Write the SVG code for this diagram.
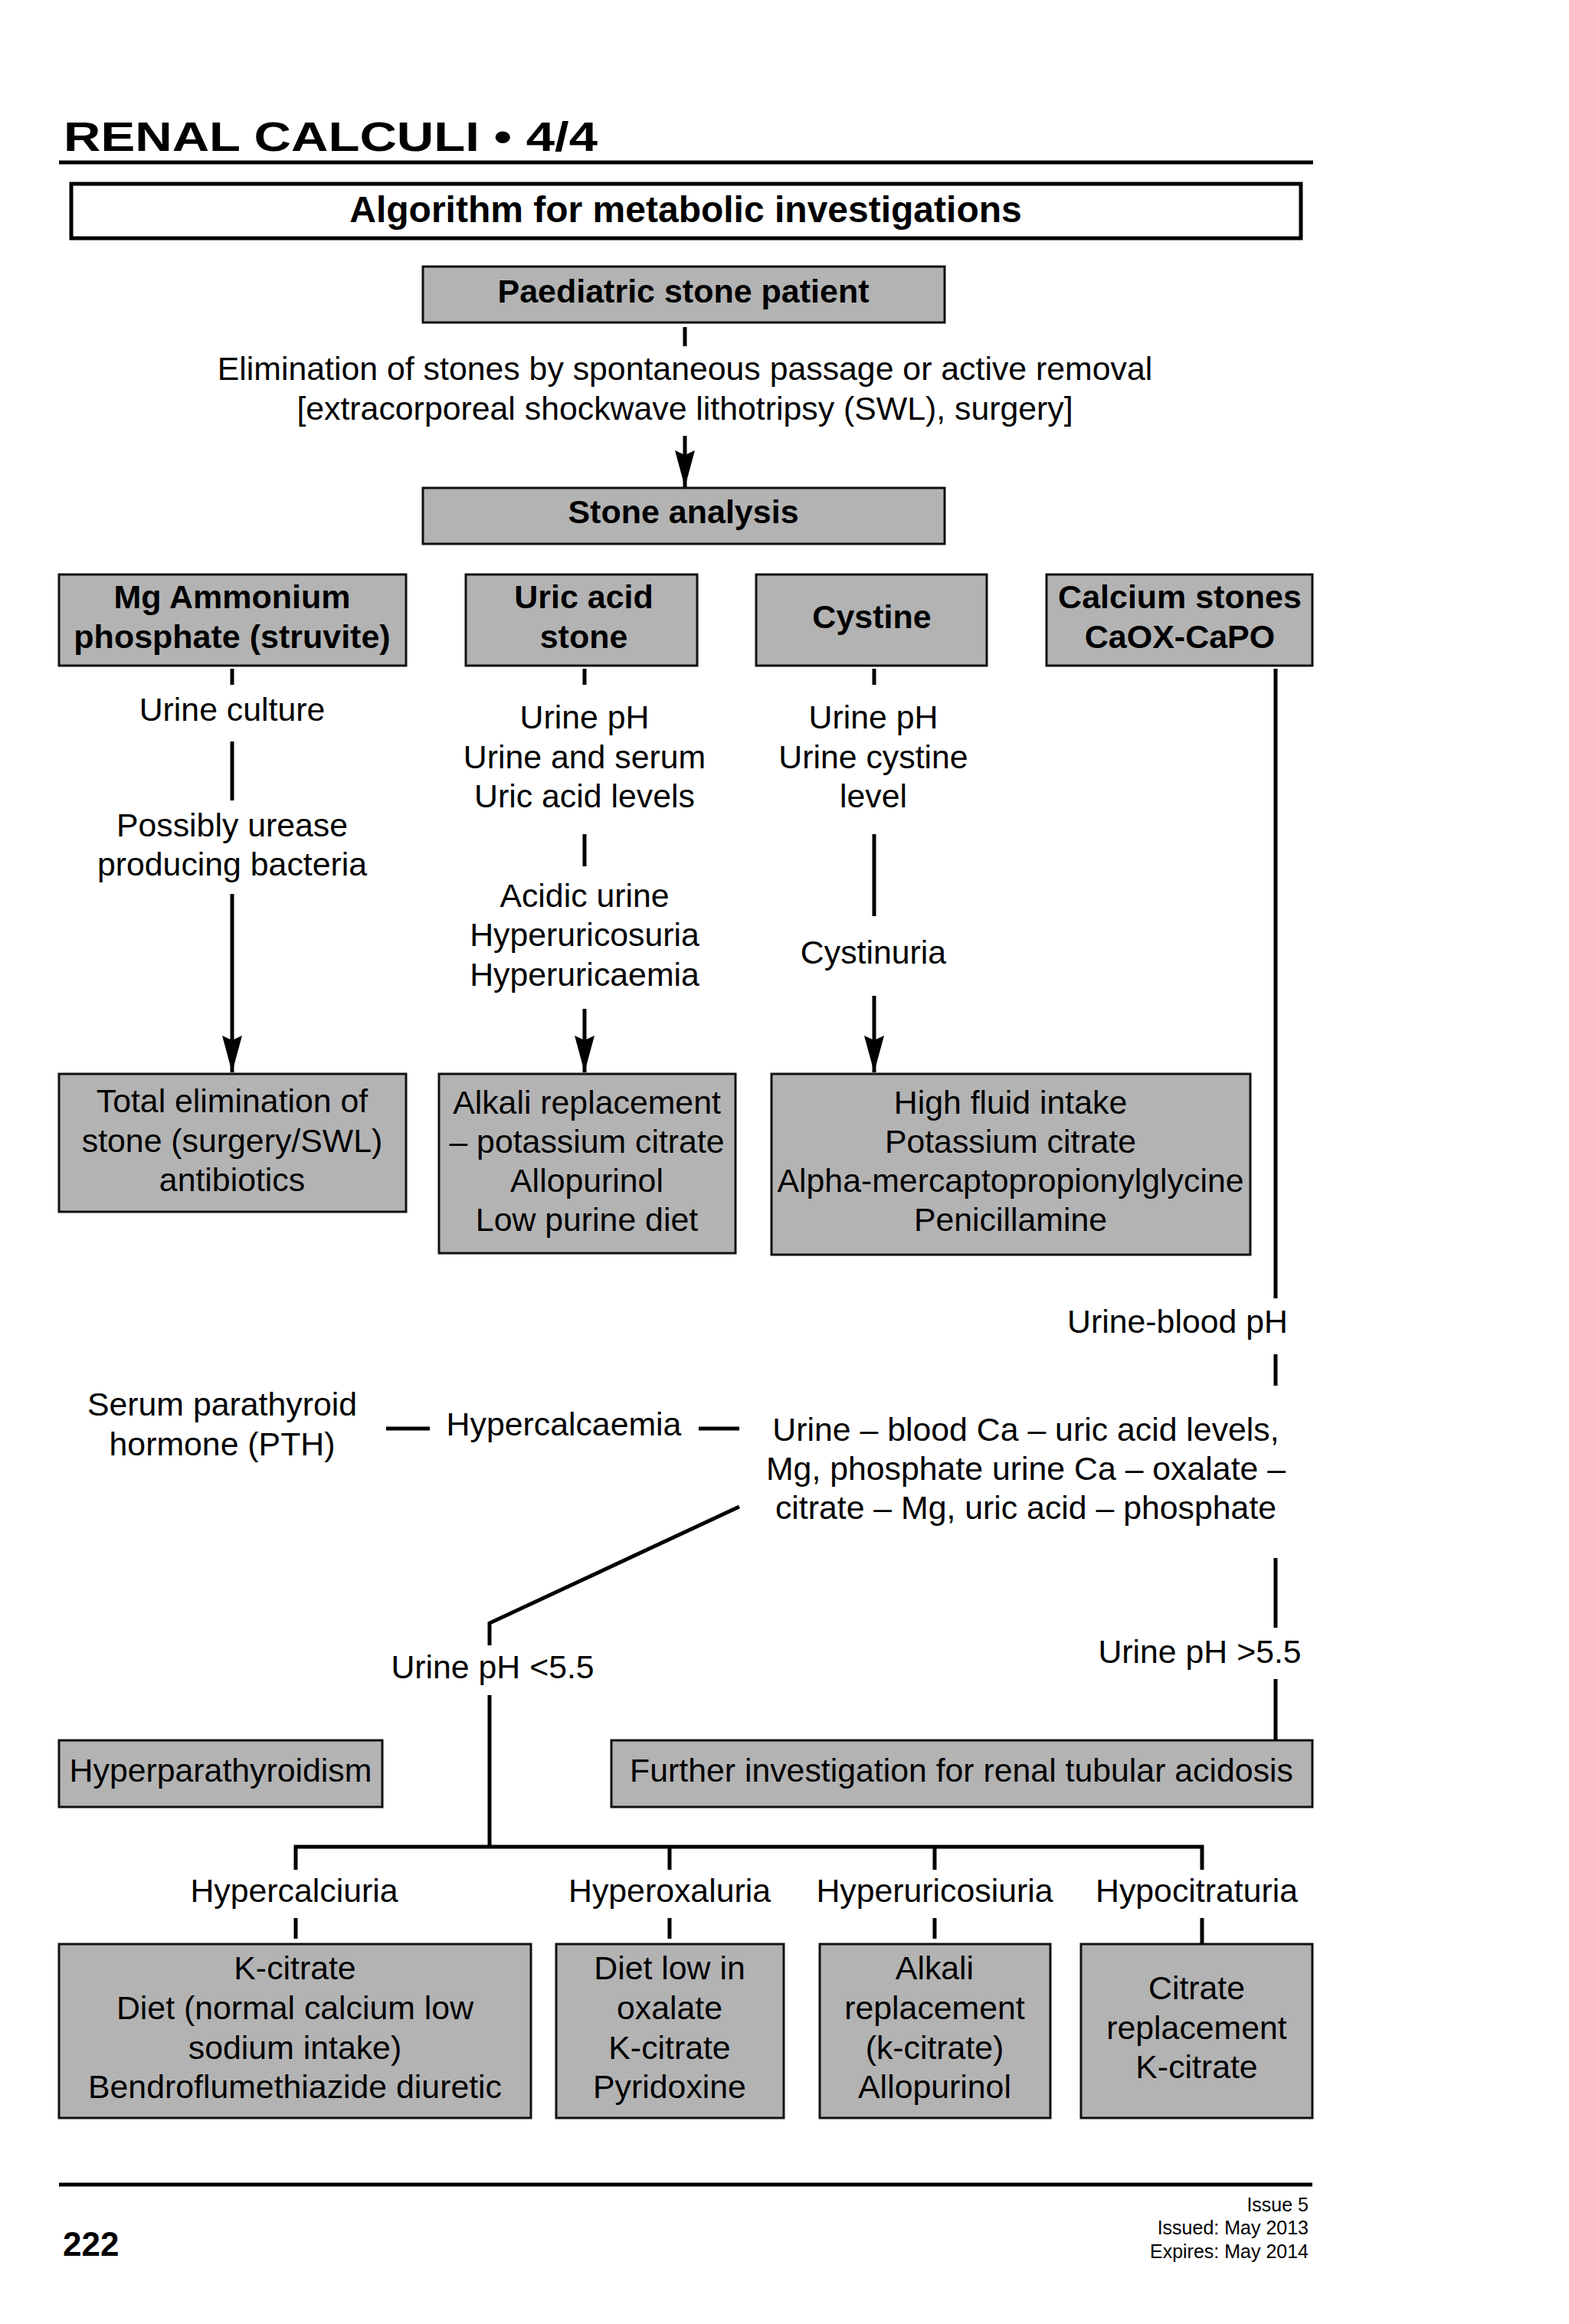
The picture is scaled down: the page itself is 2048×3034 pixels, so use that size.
<svg xmlns="http://www.w3.org/2000/svg" width="2048" height="3034" viewBox="0 0 2048 3034">
<defs>
<style>
.box{fill:#b3b3b3;stroke:#111;stroke-width:3}
.t{font-family:"Liberation Sans",Arial,Helvetica,sans-serif;font-size:42.8px;fill:#000;text-anchor:middle}
.b{font-weight:bold;font-size:43px}
.ln{stroke:#000;stroke-width:5;fill:none}
.rule{stroke:#000;stroke-width:5}
</style>
<marker id="ah" markerUnits="userSpaceOnUse" markerWidth="48" markerHeight="26" refX="48" refY="13" orient="auto" viewBox="0 0 48 26">
<path d="M0,0 L48,13 L0,26 L6,13 z" fill="#000"/>
</marker>
</defs>
<rect width="2048" height="3034" fill="#fff"/>

<g id="header">
<text x="83" y="197" class="t b" style="text-anchor:start;font-size:54px" textLength="697" lengthAdjust="spacingAndGlyphs">RENAL CALCULI • 4/4</text>
<line x1="77" y1="212" x2="1714" y2="212" class="rule"/>
</g>

<g id="title">
<rect x="93" y="240" width="1605" height="71" fill="#fff" stroke="#000" stroke-width="5"/>
<text x="895" y="290" class="t b" style="font-size:48px">Algorithm for metabolic investigations</text>
</g>

<g id="n-patient">
<rect x="552" y="348" width="681" height="73" class="box"/>
<text x="892" y="395" class="t b">Paediatric stone patient</text>
</g>

<g id="n-elimination">
<text x="894" y="496" class="t">Elimination of stones by spontaneous passage or active removal</text>
<text x="894" y="548" class="t">[extracorporeal shockwave lithotripsy (SWL), surgery]</text>
</g>

<g id="n-analysis">
<rect x="552" y="637" width="681" height="73" class="box"/>
<text x="892" y="683" class="t b">Stone analysis</text>
</g>

<g id="n-struvite">
<rect x="77" y="750" width="453" height="119" class="box"/>
<text x="303" y="794" class="t b">Mg Ammonium</text>
<text x="303" y="846" class="t b">phosphate (struvite)</text>
</g>
<g id="n-uric">
<rect x="608" y="750" width="302" height="119" class="box"/>
<text x="762" y="794" class="t b">Uric acid</text>
<text x="762" y="846" class="t b">stone</text>
</g>
<g id="n-cystine">
<rect x="987" y="750" width="301" height="119" class="box"/>
<text x="1138" y="820" class="t b">Cystine</text>
</g>
<g id="n-calcium">
<rect x="1366" y="750" width="347" height="119" class="box"/>
<text x="1540" y="794" class="t b">Calcium stones</text>
<text x="1540" y="846" class="t b">CaOX-CaPO</text>
</g>

<g id="l-culture"><text x="303" y="941" class="t">Urine culture</text></g>
<g id="l-urease">
<text x="303" y="1092" class="t">Possibly urease</text>
<text x="303" y="1143" class="t">producing bacteria</text>
</g>
<g id="l-uric-tests">
<text x="763" y="951" class="t">Urine pH</text>
<text x="763" y="1003" class="t">Urine and serum</text>
<text x="763" y="1054" class="t">Uric acid levels</text>
</g>
<g id="l-uric-findings">
<text x="763" y="1184" class="t">Acidic urine</text>
<text x="763" y="1235" class="t">Hyperuricosuria</text>
<text x="763" y="1287" class="t">Hyperuricaemia</text>
</g>
<g id="l-cys-tests">
<text x="1140" y="951" class="t">Urine pH</text>
<text x="1140" y="1003" class="t">Urine cystine</text>
<text x="1140" y="1054" class="t">level</text>
</g>
<g id="l-cystinuria"><text x="1140" y="1258" class="t">Cystinuria</text></g>

<g id="n-total">
<rect x="77" y="1402" width="453" height="180" class="box"/>
<text x="303" y="1452" class="t">Total elimination of</text>
<text x="303" y="1504" class="t">stone (surgery/SWL)</text>
<text x="303" y="1555" class="t">antibiotics</text>
</g>
<g id="n-alkali">
<rect x="573" y="1402" width="387" height="234" class="box"/>
<text x="766" y="1454" class="t">Alkali replacement</text>
<text x="766" y="1505" class="t">– potassium citrate</text>
<text x="766" y="1556" class="t">Allopurinol</text>
<text x="766" y="1607" class="t">Low purine diet</text>
</g>
<g id="n-fluid">
<rect x="1007" y="1402" width="625" height="236" class="box"/>
<text x="1319" y="1454" class="t">High fluid intake</text>
<text x="1319" y="1505" class="t">Potassium citrate</text>
<text x="1319" y="1556" class="t">Alpha-mercaptopropionylglycine</text>
<text x="1319" y="1607" class="t">Penicillamine</text>
</g>

<g id="l-urineblood"><text x="1537" y="1740" class="t">Urine-blood pH</text></g>
<g id="l-pth">
<text x="290" y="1848" class="t">Serum parathyroid</text>
<text x="290" y="1900" class="t">hormone (PTH)</text>
</g>
<g id="l-hypercalcaemia"><text x="736" y="1874" class="t">Hypercalcaemia</text></g>
<g id="l-urinelevels">
<text x="1339" y="1881" class="t">Urine – blood Ca – uric acid levels,</text>
<text x="1339" y="1932" class="t">Mg, phosphate urine Ca – oxalate –</text>
<text x="1339" y="1983" class="t">citrate – Mg, uric acid – phosphate</text>
</g>
<g id="l-ph-low"><text x="643" y="2191" class="t">Urine pH &lt;5.5</text></g>
<g id="l-ph-high"><text x="1566" y="2171" class="t">Urine pH &gt;5.5</text></g>

<g id="n-hpt">
<rect x="77" y="2272" width="422" height="87" class="box"/>
<text x="288" y="2326" class="t">Hyperparathyroidism</text>
</g>
<g id="n-rta">
<rect x="798" y="2272" width="915" height="87" class="box"/>
<text x="1255" y="2326" class="t">Further investigation for renal tubular acidosis</text>
</g>

<g id="l-hypercalciuria"><text x="384" y="2483" class="t">Hypercalciuria</text></g>
<g id="l-hyperoxaluria"><text x="874" y="2483" class="t">Hyperoxaluria</text></g>
<g id="l-hyperuricosiuria"><text x="1220" y="2483" class="t">Hyperuricosiuria</text></g>
<g id="l-hypocitraturia"><text x="1562" y="2483" class="t">Hypocitraturia</text></g>

<g id="n-kcitrate">
<rect x="77" y="2538" width="616" height="227" class="box"/>
<text x="385" y="2584" class="t">K-citrate</text>
<text x="385" y="2636" class="t">Diet (normal calcium low</text>
<text x="385" y="2688" class="t">sodium intake)</text>
<text x="385" y="2739" class="t">Bendroflumethiazide diuretic</text>
</g>
<g id="n-oxalate">
<rect x="726" y="2538" width="297" height="227" class="box"/>
<text x="874" y="2584" class="t">Diet low in</text>
<text x="874" y="2636" class="t">oxalate</text>
<text x="874" y="2688" class="t">K-citrate</text>
<text x="874" y="2739" class="t">Pyridoxine</text>
</g>
<g id="n-alkali2">
<rect x="1070" y="2538" width="301" height="227" class="box"/>
<text x="1220" y="2584" class="t">Alkali</text>
<text x="1220" y="2636" class="t">replacement</text>
<text x="1220" y="2688" class="t">(k-citrate)</text>
<text x="1220" y="2739" class="t">Allopurinol</text>
</g>
<g id="n-citrate">
<rect x="1411" y="2538" width="302" height="227" class="box"/>
<text x="1562" y="2610" class="t">Citrate</text>
<text x="1562" y="2662" class="t">replacement</text>
<text x="1562" y="2713" class="t">K-citrate</text>
</g>

<g id="connectors" class="ln">
<line x1="894" y1="427" x2="894" y2="452"/>
<line x1="894" y1="569" x2="894" y2="636" marker-end="url(#ah)"/>
<line x1="303" y1="873" x2="303" y2="894"/>
<line x1="303" y1="968" x2="303" y2="1045"/>
<line x1="303" y1="1167" x2="303" y2="1400" marker-end="url(#ah)"/>
<line x1="763" y1="873" x2="763" y2="894"/>
<line x1="763" y1="1089" x2="763" y2="1131"/>
<line x1="763" y1="1317" x2="763" y2="1400" marker-end="url(#ah)"/>
<line x1="1141" y1="873" x2="1141" y2="894"/>
<line x1="1141" y1="1089" x2="1141" y2="1196"/>
<line x1="1141" y1="1300" x2="1141" y2="1400" marker-end="url(#ah)"/>
<line x1="1665" y1="873" x2="1665" y2="1695"/>
<line x1="1665" y1="1768" x2="1665" y2="1809"/>
<line x1="504" y1="1865" x2="561" y2="1865"/>
<line x1="912" y1="1865" x2="965" y2="1865"/>
<polyline points="965,1967 639,2119 639,2148"/>
<line x1="639" y1="2213" x2="639" y2="2411"/>
<line x1="1665" y1="2034" x2="1665" y2="2125"/>
<line x1="1665" y1="2192" x2="1665" y2="2272"/>
<polyline points="386,2441 386,2411 1569,2411 1569,2441"/>
<line x1="874" y1="2411" x2="874" y2="2441"/>
<line x1="1220" y1="2411" x2="1220" y2="2441"/>
<line x1="386" y1="2504" x2="386" y2="2531"/>
<line x1="874" y1="2504" x2="874" y2="2531"/>
<line x1="1220" y1="2504" x2="1220" y2="2531"/>
<line x1="1569" y1="2504" x2="1569" y2="2538"/>
</g>

<g id="footer">
<line x1="77" y1="2852" x2="1713" y2="2852" class="rule"/>
<text x="82" y="2945" class="t b" style="text-anchor:start;font-size:44px">222</text>
<text x="1708" y="2887" class="t" style="text-anchor:end;font-size:25px">Issue 5</text>
<text x="1708" y="2917" class="t" style="text-anchor:end;font-size:25px">Issued: May 2013</text>
<text x="1708" y="2948" class="t" style="text-anchor:end;font-size:25px">Expires: May 2014</text>
</g>
</svg>
